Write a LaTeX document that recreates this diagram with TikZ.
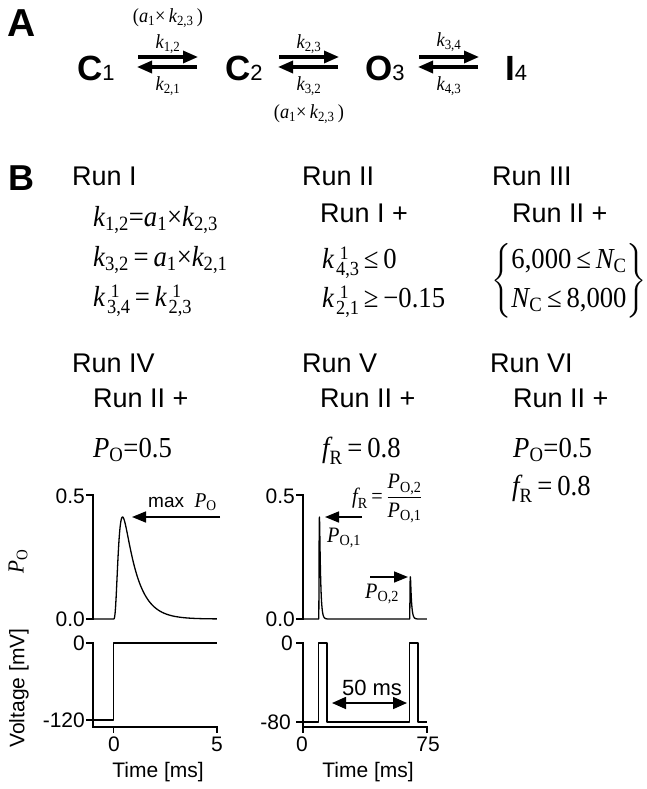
\documentclass[tikz,border=0pt]{standalone}
\usepackage{amsmath}
\usepackage{fontspec}
\setmainfont{Liberation Sans}
\newfontfamily\serif[FakeStretch=0.92]{Liberation Serif}
\usetikzlibrary{arrows.meta}
\newcommand\tv[1]{\text{\serif\itshape #1}}
\newcommand\tn[1]{\text{\serif #1}}
\newcommand\ksup[2]{\text{\serif\itshape k\upshape\rlap{\kern0.2em\raisebox{0.29em}{\fontsize{19}{19}\selectfont #1}}\kern0.07em\raisebox{-0.25em}{\fontsize{20}{20}\selectfont #2}}}
\newcommand\stsub[1]{{\fontsize{22}{24}\selectfont\mdseries #1}}
\tikzset{
  panel/.style={font=\fontsize{36}{40}\selectfont\bfseries, anchor=base west, inner sep=0pt},
  state/.style={font=\fontsize{35}{38}\selectfont, anchor=base west, inner sep=0pt},
  rate/.style={font=\fontsize{20}{22}\selectfont, inner sep=0pt},
  runhead/.style={font=\fontsize{27}{30}\selectfont, anchor=base west, inner sep=0pt},
  eq/.style={font=\fontsize{29}{33}\selectfont, anchor=base west, inner sep=0pt},
  tick/.style={font=\fontsize{21}{23}\selectfont, inner sep=0pt},
  axlab/.style={font=\fontsize{21}{24}\selectfont, inner sep=0pt},
  smalleq/.style={font=\fontsize{22}{24}\selectfont, inner sep=0pt},
  trace/.style={line width=1.3pt, line join=round},
  axisline/.style={line width=1.2pt},
  rxn/.style={line width=3.2pt, -{Triangle[length=15pt,width=12pt]}},
  ann/.style={line width=1.6pt, -{Triangle[length=14pt,width=11pt]}},
  dbl/.style={line width=1.6pt, {Triangle[length=14pt,width=12pt]}-{Triangle[length=14pt,width=12pt]}},
}
\begin{document}
\begin{tikzpicture}[x=1pt,y=-1pt]
\useasboundingbox (0,0) rectangle (647,789);

% ---------------- Panel A ----------------
\node[panel, font=\fontsize{39}{42}\selectfont\bfseries] (A) at (7,37) {A};
\node[state] (C1) at (77,81) {\textbf{C}\stsub{1}};
\node[state] (C2) at (225,81) {\textbf{C}\stsub{2}};
\node[state] (O3) at (365,81) {\textbf{O}\stsub{3}};
\node[state] (I4) at (505,81) {\textbf{I}\stsub{4}};

\coordinate (f1s) at (138,57); \coordinate (f1e) at (198,57);
\coordinate (b1s) at (197,67); \coordinate (b1e) at (137,67);
\coordinate (f2s) at (279,57); \coordinate (f2e) at (339,57);
\coordinate (b2s) at (338,67); \coordinate (b2e) at (278,67);
\coordinate (f3s) at (419,57); \coordinate (f3e) at (479,57);
\coordinate (b3s) at (478,67); \coordinate (b3e) at (418,67);
\draw[rxn] (f1s) -- (f1e);
\draw[rxn] (b1s) -- (b1e);
\draw[rxn] (f2s) -- (f2e);
\draw[rxn] (b2s) -- (b2e);
\draw[rxn] (f3s) -- (f3e);
\draw[rxn] (b3s) -- (b3e);

\node[rate] (a12) at (168,18) {$\tn{(}\tv{a}_{\tn{1}}\tn{×\,}\tv{k}_{\tn{2,3}}\tn{\,)}$};
\node[rate] (k12) at (168,44) {$\tv{k}_{\tn{1,2}}$};
\node[rate] (k21) at (168,86) {$\tv{k}_{\tn{2,1}}$};
\node[rate] (k23) at (309,44) {$\tv{k}_{\tn{2,3}}$};
\node[rate] (k32) at (309,86) {$\tv{k}_{\tn{3,2}}$};
\node[rate] (a32) at (309,114) {$\tn{(}\tv{a}_{\tn{1}}\tn{×\,}\tv{k}_{\tn{2,3}}\tn{\,)}$};
\node[rate] (k34) at (449,42) {$\tv{k}_{\tn{3,4}}$};
\node[rate] (k43) at (449,86) {$\tv{k}_{\tn{4,3}}$};

% ---------------- Panel B ----------------
\node[panel] (B) at (8,190) {B};
\node[runhead] (r1) at (72,185) {Run I};
\node[runhead] (r2) at (302,185) {Run II};
\node[runhead] (r3) at (492,185) {Run III};
\node[runhead] (r2p) at (320,222) {Run I +};
\node[runhead] (r3p) at (512,222) {Run II +};

\node[eq] (e11) at (93,226) {$\tv{k}_{\tn{1,2}}\tn{=}\tv{a}_{\tn{1}}\tn{×}\tv{k}_{\tn{2,3}}$};
\node[eq] (e12) at (93,266) {$\tv{k}_{\tn{3,2}}\tn{\,=\,}\tv{a}_{\tn{1}}\tn{×}\tv{k}_{\tn{2,1}}$};
\node[eq] (e13) at (93,306) {$\ksup{1}{3,4}\tn{\,=\,}\ksup{1}{2,3}$};
\node[eq] (e21) at (322,268) {$\ksup{1}{4,3}\tn{\,≤\,0}$};
\node[eq] (e22) at (322,307) {$\ksup{1}{2,1}\tn{\,≥\,−0.15}$};
\node[eq, anchor=center] (e3) at (569,281) {$\left\{\begin{array}{@{}l@{}}\tn{6,000\,≤\,}\tv{N}_{\tn{C}}\\[6pt]\tv{N}_{\tn{C}}\tn{\,≤\,8,000}\end{array}\right\}$};

\node[runhead] (r4) at (72,372) {Run IV};
\node[runhead] (r5) at (302,372) {Run V};
\node[runhead] (r6) at (490,372) {Run VI};
\node[runhead] (r4p) at (93,407) {Run II +};
\node[runhead] (r5p) at (320,407) {Run II +};
\node[runhead] (r6p) at (513,407) {Run II +};
\node[eq] (e4) at (93,457) {$\tv{P}_{\tn{O}}\tn{=0.5}$};
\node[eq] (e5) at (322,457) {$\tv{f}_{\tn{R}}\tn{\,=\,0.8}$};
\node[eq] (e61) at (513,457) {$\tv{P}_{\tn{O}}\tn{=0.5}$};
\node[eq] (e62) at (512,495) {$\tv{f}_{\tn{R}}\tn{\,=\,0.8}$};

% ---------------- Left plots ----------------
\draw[axisline] (86,495) -- (93,495) -- (93,619) -- (86,619);
\node[tick, anchor=east] (lp05) at (85,496) {0.5};
\node[tick, anchor=east] (lp00) at (85,619) {0.0};
\begin{scope}[shift={(113.5,619)}, x=20.7pt, y=248pt]
  \draw[trace] (-1,0) -- (0,0) -- plot[domain=0:5, samples=200] (\x,{1.007*(1-exp(-\x/0.15))^4*exp(-\x/0.65)});
\end{scope}
\node[font=\fontsize{23}{24}\selectfont, inner sep=0pt, rotate=90] (lpy) at (18,561) {$\tv{P}_{\tn{O}}$};
\node[font=\fontsize{19}{22}\selectfont, anchor=base west, inner sep=0pt] (maxl) at (148,507) {max\ \ {\fontsize{21}{22}\selectfont$\tv{P}_{\tn{O}}$}};
\coordinate (mxs) at (220,517); \coordinate (mxe) at (132,517);
\draw[ann] (mxs) -- (mxe);

\draw[axisline] (86,643) -- (93,643) -- (93,727) -- (217,727) -- (217,733);
\draw[axisline] (86,720) -- (93,720);
\draw[axisline] (113.5,727) -- (113.5,733);
\draw[trace] (93,720) -- (113.5,720) -- (113.5,643) -- (217,643);
\node[tick, anchor=east] (lv0) at (85,643) {0};
\node[tick, anchor=east] (lv120) at (85,720) {-120};
\node[tick, anchor=north] (lt0) at (114,737) {0};
\node[tick, anchor=north] (lt5) at (217,737) {5};
\node[axlab, anchor=base] (ltime) at (158,777) {Time [ms]};
\node[axlab, rotate=90] (lvolt) at (19,688) {Voltage [mV]};

% ---------------- Right plots ----------------
\draw[axisline] (296,495) -- (303,495) -- (303,619) -- (296,619);
\node[tick, anchor=east] (rp05) at (295,496) {0.5};
\node[tick, anchor=east] (rp00) at (295,619) {0.0};
\begin{scope}[shift={(303,619)}, x=1.653pt, y=248pt]
  \draw[trace] (0,0) -- (9.5,0) -- plot[domain=9.5:22, samples=200] (\x,{1.007*(1-exp(-(\x-9.5)/0.15))^4*exp(-(\x-9.5)/0.65)}) -- (64.5,0) -- plot[domain=64.5:75, samples=200] (\x,{0.4165*(1-exp(-(\x-64.5)/0.15))^4*exp(-(\x-64.5)/0.65)});
\end{scope}
\coordinate (p1s) at (362,517); \coordinate (p1e) at (325,517);
\draw[ann] (p1s) -- (p1e);
\node[smalleq, anchor=base west] (po1) at (327,542) {$\tv{P}_{\tn{O,1}}$};
\coordinate (p2s) at (370,577); \coordinate (p2e) at (408,577);
\draw[ann] (p2s) -- (p2e);
\node[smalleq, anchor=base west] (po2) at (365,598) {$\tv{P}_{\tn{O,2}}$};
\node[font=\fontsize{22}{24}\selectfont, inner sep=0pt, anchor=base west] (fr) at (352,503) {$\tv{f}_{\tn{R}}\tn{\,=\,}\dfrac{\tv{P}_{\tn{O,2}}}{\tv{P}_{\tn{O,1}}}$};

\draw[axisline] (296,643) -- (303,643) -- (303,733);
\draw[axisline] (303,727) -- (427,727) -- (427,733);
\draw[axisline] (296,722) -- (303,722);
\draw[trace] (303,722) -- (318.7,722) -- (318.7,643) -- (327,643) -- (327,722) -- (409.6,722) -- (409.6,643) -- (417.9,643) -- (417.9,722) -- (427,722);
\node[tick, anchor=east] (rv0) at (293,643) {0};
\node[tick, anchor=east] (rv80) at (291,722) {-80};
\node[tick, anchor=north] (rt0) at (302,737) {0};
\node[tick, anchor=north] (rt75) at (428,737) {75};
\node[axlab, anchor=base] (rtime) at (368,777) {Time [ms]};
\node[font=\fontsize{22}{24}\selectfont, inner sep=0pt, anchor=base] (fifty) at (372,695) {50 ms};
\coordinate (d1) at (332,703); \coordinate (d2) at (407,703);
\draw[dbl] (d1) -- (d2);
\end{tikzpicture}
\end{document}
